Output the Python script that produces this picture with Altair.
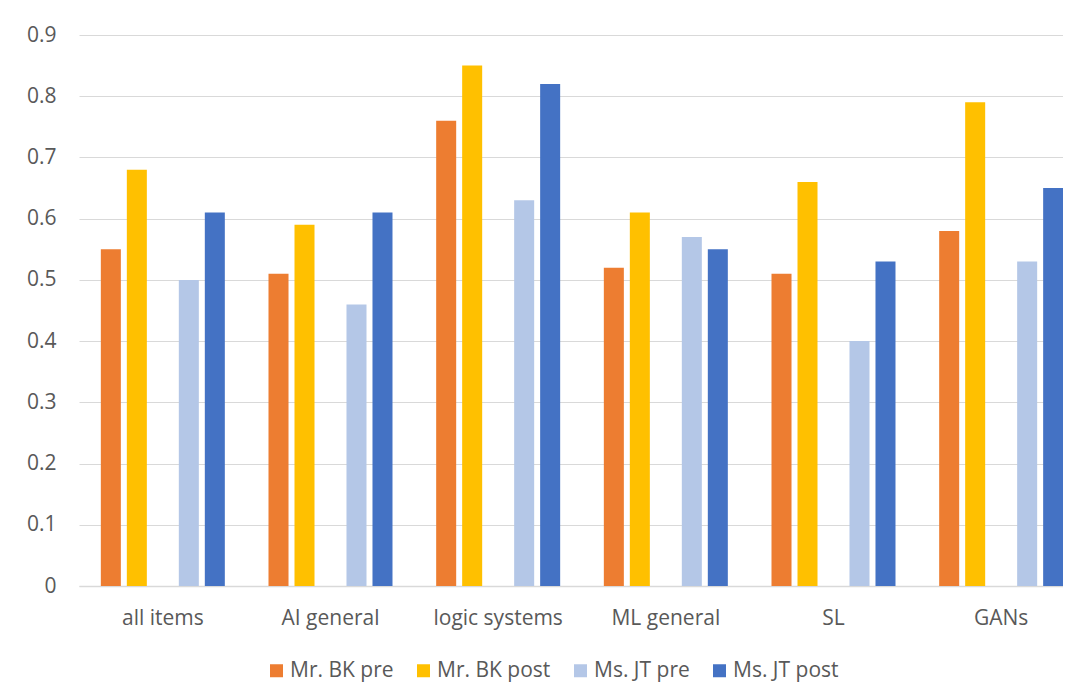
import altair as alt
import pandas as pd

categories = ["all items", "AI general", "logic systems", "ML general", "SL", "GANs"]
series = ["Mr. BK pre", "Mr. BK post", "Ms. JT pre", "Ms. JT post"]
colors = ["#ED7D31", "#FFC000", "#B4C7E7", "#4472C4"]

mr_bk_pre = [0.55, 0.51, 0.76, 0.52, 0.51, 0.58]
mr_bk_post = [0.68, 0.59, 0.85, 0.61, 0.66, 0.79]
ms_jt_pre = [0.50, 0.46, 0.63, 0.57, 0.40, 0.53]
ms_jt_post = [0.61, 0.61, 0.82, 0.55, 0.53, 0.65]

values = [mr_bk_pre, mr_bk_post, ms_jt_pre, ms_jt_post]
rows = []
for s, vals in zip(series, values):
    for c, v in zip(categories, vals):
        rows.append({"category": c, "series": s, "value": v})
df = pd.DataFrame(rows)

# empty slot between the two pairs of bars
offset_domain = ["Mr. BK pre", "Mr. BK post", "gap", "Ms. JT pre", "Ms. JT post"]

FONT = "Open Sans"
TXT = "#595959"
GRID = "#D9D9D9"

chart = alt.Chart(df).mark_bar().encode(
    x=alt.X(
        "category:N",
        sort=categories,
        scale=alt.Scale(range=[0, 1006], paddingInner=0, paddingOuter=0),
        axis=alt.Axis(
            title=None,
            labelAngle=0,
            labelFont=FONT,
            labelFontSize=21,
            labelColor=TXT,
            labelPadding=21,
            ticks=False,
            domain=True,
            domainColor=GRID,
            domainWidth=1.5,
            grid=False,
        ),
    ),
    xOffset=alt.XOffset(
        "series:N",
        scale=alt.Scale(domain=offset_domain, paddingInner=0.23, paddingOuter=0.84),
    ),
    y=alt.Y(
        "value:Q",
        scale=alt.Scale(domain=[0, 0.9], nice=False),
        axis=alt.Axis(
            title=None,
            values=[0, 0.1, 0.2, 0.3, 0.4, 0.5, 0.6, 0.7, 0.8, 0.9],
            format="~g",
            labelFont=FONT,
            labelFontSize=21,
            labelColor=TXT,
            labelPadding=23,
            ticks=False,
            domain=False,
            grid=True,
            gridColor=GRID,
            gridWidth=1.2,
        ),
    ),
    color=alt.Color(
        "series:N",
        scale=alt.Scale(domain=series, range=colors),
        legend=alt.Legend(
            title=None,
            orient="none",
            legendX=187,
            legendY=625,
            direction="horizontal",
            symbolType="square",
            symbolSize=169,
            symbolStrokeWidth=0,
            labelFont=FONT,
            labelFontSize=21,
            labelColor=TXT,
            labelOffset=3,
            columnPadding=19,
        ),
    ),
).properties(
    width=984,
    height=551,
    padding={"left": 71, "top": 27, "right": 0, "bottom": 100},
    autosize=alt.AutoSizeParams(type="none"),
    background="white",
).configure_view(stroke=None)

chart.save("out.html", embed_options={"renderer": "svg", "actions": False})
